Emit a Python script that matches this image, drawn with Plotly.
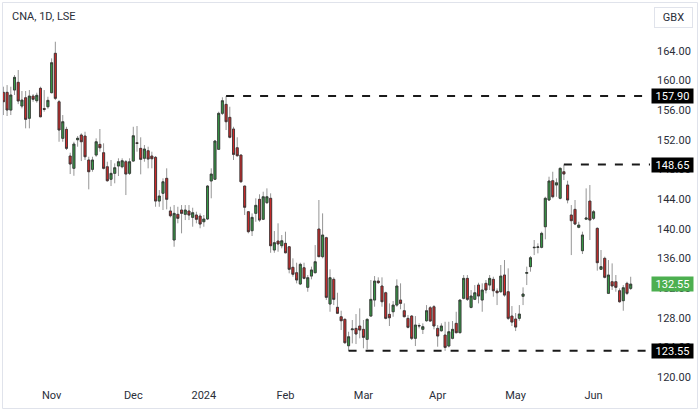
import pandas as pd
import plotly.graph_objects as go

# ---------------- data (CNA, 1D, LSE, GBX) ----------------
uk_holidays = ["2023-12-25", "2023-12-26", "2024-01-01", "2024-03-29",
               "2024-04-01", "2024-05-06", "2024-05-27"]
dates = [d.strftime("%Y-%m-%d") for d in
         pd.bdate_range("2023-10-13", "2024-06-17", freq="C", holidays=uk_holidays)]

opens = [
    158.39, 158.39, 156.00, 158.70, 159.74, 156.54, 157.66, 154.89, 157.89, 157.26,
    158.93, 156.20, 156.45, 158.34, 163.65, 157.12, 152.19, 153.40, 149.81, 148.15,
    152.00, 152.64, 152.50, 149.27, 148.01, 149.94, 151.38, 150.25, 148.36, 146.67,
    147.47, 148.46, 148.36, 149.04, 147.47, 149.13, 151.60, 150.84, 149.50, 150.52,
    149.81, 149.63, 143.74, 144.78, 146.80, 142.40, 138.49, 141.95, 142.53, 141.95,
    142.40, 141.54, 141.86, 141.72, 140.95, 141.32, 146.44, 146.67, 150.71, 155.56,
    156.77, 155.02, 153.45, 150.92, 149.94, 145.76, 142.30, 139.74, 142.08, 143.97,
    141.28, 143.52, 144.11, 137.14, 138.35, 137.72, 138.04, 137.58, 134.81, 134.08,
    132.56, 134.75, 132.11, 133.63, 134.08, 139.97, 136.24, 138.80, 129.86, 133.19,
    129.42, 128.15, 127.80, 124.24, 126.40, 126.58, 126.90, 126.45, 125.10, 128.24,
    130.40, 132.96, 132.29, 131.38, 128.47, 128.82, 129.72, 130.40, 128.96, 127.93,
    128.24, 125.24, 126.90, 126.45, 127.61, 129.36, 129.50, 126.58, 126.26, 125.68,
    124.20, 125.24, 127.26, 126.00, 130.63, 133.32, 129.41, 130.49, 132.42, 130.40,
    132.65, 132.42, 133.19, 131.61, 131.52, 133.77, 131.52, 128.24, 127.84, 127.93,
    130.90, 134.00, 134.90, 137.45, 137.50, 137.50, 140.28, 143.88, 146.48, 145.90,
    144.11, 147.69, 145.90, 141.86, 142.62, 140.20, 137.05, 141.30, 143.74, 141.41,
    140.06, 134.54, 136.02, 131.30, 132.87, 132.87, 131.65, 130.31, 132.65, 131.97,
]
highs = [
    159.15, 159.37, 159.15, 160.72, 161.40, 158.57, 158.57, 158.70, 158.16, 158.34,
    159.15, 158.70, 157.80, 162.97, 165.21, 157.35, 155.33, 153.75, 150.25, 151.73,
    152.50, 152.87, 153.08, 149.71, 149.71, 152.19, 153.45, 151.52, 149.04, 149.27,
    148.82, 149.50, 149.50, 149.27, 149.50, 153.75, 153.85, 152.33, 151.29, 151.06,
    150.39, 149.81, 145.22, 146.80, 148.15, 142.97, 143.20, 142.97, 143.20, 143.20,
    143.20, 142.84, 142.30, 142.08, 141.86, 145.90, 148.15, 151.97, 155.78, 157.72,
    157.90, 156.45, 153.75, 152.33, 150.00, 145.80, 142.40, 142.08, 144.11, 144.65,
    145.00, 145.45, 144.78, 139.70, 140.74, 139.16, 139.61, 137.68, 136.02, 135.43,
    135.43, 135.43, 133.77, 134.90, 137.81, 143.88, 142.08, 138.93, 134.54, 133.46,
    131.38, 128.96, 127.93, 126.13, 127.71, 128.51, 129.28, 127.71, 127.93, 133.10,
    133.63, 133.46, 133.46, 131.52, 129.95, 130.27, 133.19, 132.65, 129.95, 128.38,
    128.38, 128.24, 127.26, 127.26, 129.72, 129.59, 129.72, 127.03, 127.26, 127.47,
    127.47, 127.57, 128.82, 130.45, 133.77, 133.77, 131.75, 132.42, 132.73, 132.65,
    133.10, 133.77, 133.54, 131.97, 135.12, 135.79, 134.67, 129.59, 128.65, 129.72,
    132.11, 134.90, 136.33, 138.49, 138.04, 139.61, 144.32, 147.02, 147.69, 146.80,
    148.28, 148.65, 146.48, 143.20, 143.88, 140.95, 139.61, 145.45, 145.90, 142.53,
    140.20, 137.14, 136.24, 135.79, 135.34, 133.77, 131.97, 132.42, 132.87, 133.54,
]
lows = [
    155.33, 155.20, 155.33, 158.03, 156.80, 156.23, 153.54, 153.54, 157.12, 156.99,
    155.02, 155.78, 156.18, 158.26, 157.35, 151.73, 151.73, 150.62, 147.38, 147.15,
    151.06, 149.13, 149.27, 145.32, 147.69, 149.71, 150.39, 148.01, 146.34, 145.76,
    146.13, 147.11, 148.15, 144.55, 147.25, 149.04, 150.39, 147.34, 149.04, 148.15,
    148.15, 142.97, 142.97, 142.53, 142.62, 141.54, 137.58, 140.74, 139.39, 141.18,
    141.18, 140.28, 140.74, 140.07, 140.28, 141.18, 144.11, 146.57, 150.62, 155.33,
    153.31, 152.19, 149.27, 149.71, 146.20, 141.86, 139.39, 139.03, 140.95, 140.95,
    141.18, 143.34, 136.77, 136.77, 136.91, 137.37, 136.69, 134.00, 133.54, 132.65,
    132.42, 133.19, 131.52, 133.19, 134.00, 136.20, 136.02, 130.40, 128.82, 129.72,
    128.51, 126.36, 124.47, 123.55, 124.56, 124.47, 125.24, 123.90, 123.76, 128.15,
    129.50, 132.56, 129.50, 127.80, 126.90, 128.15, 129.50, 129.15, 128.07, 126.58,
    125.01, 124.20, 126.58, 125.82, 127.47, 127.47, 126.45, 124.11, 126.13, 123.55,
    124.02, 125.10, 125.91, 125.91, 130.49, 130.27, 129.28, 130.40, 129.95, 128.82,
    131.30, 131.75, 130.85, 129.72, 131.38, 130.85, 127.71, 126.90, 126.22, 127.61,
    129.72, 132.42, 134.22, 136.46, 136.69, 137.37, 138.58, 143.74, 144.11, 144.32,
    143.97, 146.57, 143.43, 136.46, 140.50, 140.07, 136.60, 141.18, 138.49, 141.18,
    134.36, 134.45, 133.32, 131.21, 131.75, 131.52, 130.04, 128.96, 131.07, 131.75,
]
closes = [
    157.12, 156.01, 158.03, 160.41, 157.22, 157.35, 154.75, 157.89, 157.45, 157.99,
    155.10, 156.10, 157.31, 162.38, 157.58, 153.31, 154.43, 150.84, 148.73, 151.42,
    152.20, 151.73, 149.71, 147.69, 149.27, 151.73, 150.92, 148.15, 146.48, 147.47,
    148.23, 149.04, 149.17, 147.38, 149.04, 152.54, 151.50, 149.36, 150.75, 149.40,
    149.44, 143.74, 144.42, 146.34, 143.97, 141.76, 142.08, 141.41, 142.08, 142.53,
    141.85, 142.17, 141.28, 140.64, 141.32, 145.76, 147.38, 151.83, 155.56, 157.26,
    154.43, 152.33, 150.03, 149.85, 146.34, 142.90, 139.61, 141.54, 143.16, 141.18,
    144.32, 144.32, 137.72, 138.13, 137.95, 138.39, 136.77, 134.54, 133.87, 133.10,
    135.21, 133.32, 133.41, 134.45, 135.56, 136.24, 139.16, 130.76, 133.41, 130.49,
    128.61, 127.61, 124.65, 125.45, 126.50, 125.82, 126.36, 125.37, 127.80, 130.49,
    132.96, 132.74, 130.17, 127.93, 128.01, 129.72, 132.29, 129.95, 128.15, 126.72,
    125.24, 127.03, 126.95, 126.81, 128.96, 127.57, 126.90, 125.55, 126.90, 124.02,
    126.13, 126.45, 126.00, 130.40, 133.32, 130.49, 130.94, 131.38, 130.94, 131.75,
    131.75, 133.32, 131.65, 131.38, 133.63, 131.07, 127.93, 127.43, 126.76, 128.51,
    131.21, 134.10, 136.10, 137.50, 137.55, 139.39, 144.11, 146.44, 144.32, 146.20,
    148.15, 147.38, 143.88, 141.09, 140.64, 140.50, 139.16, 141.45, 141.18, 142.30,
    135.43, 134.90, 133.46, 133.77, 132.29, 132.11, 130.17, 132.06, 131.30, 132.55,
]

marked_highs = [157.90, 148.65]
marked_lows = [123.55]
y_ticks = [120, 124, 128, 132, 136, 140, 144, 148, 152, 156, 160, 164]

# ---------------- styling ----------------
UP = "#379a46"
DOWN = "#d22a2a"
WICK = "#969696"
EDGE = "#333333"
TXT = "#2a2e39"
FONT = "Roboto"

X_MAX = 174.2
Y_RANGE = [118.95, 170.43]

body_hi = [max(o, c) for o, c in zip(opens, closes)]
body_lo = [min(o, c) for o, c in zip(opens, closes)]

fig = go.Figure()
# wicks
fig.add_trace(go.Candlestick(
    x=dates, open=opens, high=highs, low=lows, close=closes,
    increasing=dict(fillcolor=UP, line=dict(color=WICK, width=1)),
    decreasing=dict(fillcolor=DOWN, line=dict(color=WICK, width=1)),
    whiskerwidth=0, hoverinfo="skip", showlegend=False,
))
# bodies with dark borders
fig.add_trace(go.Candlestick(
    x=dates, open=opens, high=body_hi, low=body_lo, close=closes,
    increasing=dict(fillcolor=UP, line=dict(color=EDGE, width=0.8)),
    decreasing=dict(fillcolor=DOWN, line=dict(color=EDGE, width=0.8)),
    whiskerwidth=0, hoverinfo="skip", showlegend=False,
))

# month ticks: first trading day of each new month
tick_vals, tick_text = [], []
for i in range(1, len(dates)):
    if dates[i][:7] != dates[i - 1][:7]:
        ts = pd.Timestamp(dates[i])
        tick_vals.append(dates[i])
        tick_text.append(str(ts.year) if ts.month == 1 else ts.strftime("%b"))

shapes = []
annotations = []
for lvl in marked_highs + marked_lows:
    src = highs if lvl in marked_highs else lows
    idx = src.index(lvl)
    shapes.append(dict(type="line", xref="x", yref="y", x0=idx, x1=X_MAX,
                       y0=lvl, y1=lvl,
                       line=dict(color="#1a1a1a", width=2, dash="8px,9px")))
    annotations.append(dict(xref="paper", yref="y", x=1, y=lvl, xanchor="left",
                            yanchor="middle", xshift=1, text=f"{lvl:.2f}",
                            showarrow=False, bgcolor="#000000", width=41, height=14,
                            font=dict(family=FONT, size=11, color="#ffffff"),
                            borderpad=0))
last = closes[-1]
annotations.append(dict(xref="paper", yref="y", x=1, y=last, xanchor="left",
                        yanchor="middle", xshift=1, text=f"{last:.2f}",
                        showarrow=False, bgcolor="#4caf50", width=41, height=14,
                        font=dict(family=FONT, size=11, color="#ffffff"),
                        borderpad=0))
# GBX badge
annotations.append(dict(xref="paper", yref="paper", x=1.037, y=0.963,
                        xanchor="center", yanchor="middle", text="GBX",
                        showarrow=False, bgcolor="#ffffff", bordercolor="#e0e3eb",
                        borderwidth=1, width=35, height=17,
                        font=dict(family=FONT, size=11, color=TXT)))
# title
annotations.append(dict(xref="paper", yref="paper", x=0.011, y=0.964,
                        xanchor="left", yanchor="middle", text="CNA, 1D, LSE",
                        showarrow=False,
                        font=dict(family=FONT, size=11, color=TXT)))
# outer frame
shapes.append(dict(type="rect", xref="paper", yref="paper",
                   x0=-0.0008, x1=1.0734, y0=-0.0615, y1=1.0013,
                   line=dict(color="#e0e3eb", width=1), fillcolor="rgba(0,0,0,0)",
                   layer="below"))

fig.update_layout(
    width=700, height=412,
    margin=dict(l=3, r=50, t=3, b=27),
    paper_bgcolor="#ffffff", plot_bgcolor="#ffffff",
    font=dict(family=FONT, size=11, color=TXT),
    showlegend=False, hovermode=False,
    shapes=shapes, annotations=annotations,
    boxgap=0.22,
    xaxis=dict(type="category", range=[-0.1, X_MAX], rangeslider=dict(visible=False),
               showgrid=False, zeroline=False, showline=False, ticks="",
               tickmode="array", tickvals=tick_vals, ticktext=tick_text,
               ticklabelstandoff=2,
               tickfont=dict(family=FONT, size=11, color=TXT)),
    yaxis=dict(side="right", range=Y_RANGE, showgrid=False, zeroline=False,
               showline=False, ticks="", tickmode="array", tickvals=y_ticks,
               ticktext=[f"{v:.2f}" for v in y_ticks], ticklabelstandoff=6,
               tickfont=dict(family=FONT, size=11, color=TXT)),
)

fig.write_html("out.html")
